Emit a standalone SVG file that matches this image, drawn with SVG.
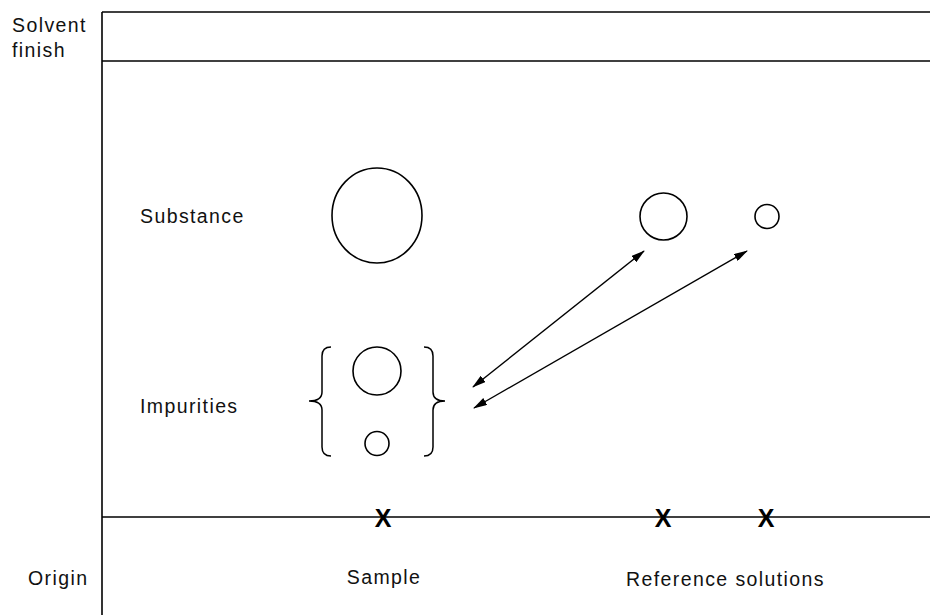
<svg xmlns="http://www.w3.org/2000/svg" width="930" height="615" viewBox="0 0 930 615">
  <style>
    .frame { stroke: #000; stroke-width: 1.6; fill: none; }
    .spot { stroke: #000; stroke-width: 1.6; fill: none; }
    .brace { stroke: #000; stroke-width: 1.5; fill: none; }
    .conn { stroke: #000; stroke-width: 1.4; fill: none; }
    .label { font-family: "Liberation Sans", Arial, sans-serif; font-size: 19.5px; letter-spacing: 1.4px; fill: #111; }
    .mark { font-family: "Liberation Sans", Arial, sans-serif; font-size: 25px; font-weight: bold; fill: #000; text-anchor: middle; }
  </style>
  <defs>
    <marker id="tip" viewBox="0 0 14 8" refX="13" refY="4" markerWidth="14" markerHeight="8" markerUnits="userSpaceOnUse" orient="auto-start-reverse">
      <path d="M0,0 L14,4 L0,8 Z" fill="#000"/>
    </marker>
  </defs>

  <rect width="930" height="615" fill="#fff"/>

  <!-- plate outline: left edge, top edge, solvent front, origin line -->
  <g id="plate">
    <line class="frame" x1="102" y1="12" x2="102" y2="615"/>
    <line class="frame" x1="102" y1="12" x2="930" y2="12"/>
    <line class="frame" x1="102" y1="61" x2="930" y2="61"/>
    <line class="frame" x1="102" y1="517" x2="930" y2="517"/>
  </g>

  <!-- side labels -->
  <g id="label-solvent-finish">
    <text class="label" x="12" y="32">Solvent</text>
    <text class="label" x="12" y="57">finish</text>
  </g>
  <g id="label-origin">
    <text class="label" x="28" y="585">Origin</text>
  </g>
  <g id="label-substance">
    <text class="label" x="140" y="223">Substance</text>
  </g>
  <g id="label-impurities">
    <text class="label" x="140" y="413">Impurities</text>
  </g>

  <!-- sample lane -->
  <g id="sample-main-spot">
    <ellipse class="spot" cx="377" cy="215.5" rx="45" ry="47.5"/>
  </g>
  <g id="sample-impurities">
    <circle class="spot" cx="377" cy="371" r="24"/>
    <circle class="spot" cx="377" cy="443.5" r="12"/>
    <!-- left brace -->
    <path class="brace" d="M331,347 Q322,347 322,356 L322,392 Q322,401 309,401 Q322,401 322,410 L322,447 Q322,456 331,456"/>
    <!-- right brace -->
    <path class="brace" d="M424,347 Q433,347 433,356 L433,392 Q433,401 445,401 Q433,401 433,410 L433,447 Q433,456 424,456"/>
  </g>
  <g id="sample-origin">
    <text class="mark" x="383" y="526.5">X</text>
  </g>
  <g id="label-sample">
    <text class="label" x="384" y="584" text-anchor="middle">Sample</text>
  </g>

  <!-- reference lanes -->
  <g id="reference-spot-1">
    <circle class="spot" cx="663.5" cy="216.5" r="23.5"/>
  </g>
  <g id="reference-spot-2">
    <circle class="spot" cx="767" cy="216.5" r="12"/>
  </g>
  <g id="reference-origin-1">
    <text class="mark" x="663" y="526.5">X</text>
  </g>
  <g id="reference-origin-2">
    <text class="mark" x="766" y="526.5">X</text>
  </g>
  <g id="label-reference-solutions">
    <text class="label" x="626" y="586">Reference solutions</text>
  </g>

  <!-- comparison arrows between reference spots and impurity spots -->
  <g id="connectors">
    <line class="conn" x1="473" y1="387" x2="644" y2="251" marker-start="url(#tip)" marker-end="url(#tip)"/>
    <line class="conn" x1="474" y1="408" x2="747" y2="251" marker-start="url(#tip)" marker-end="url(#tip)"/>
  </g>
</svg>
